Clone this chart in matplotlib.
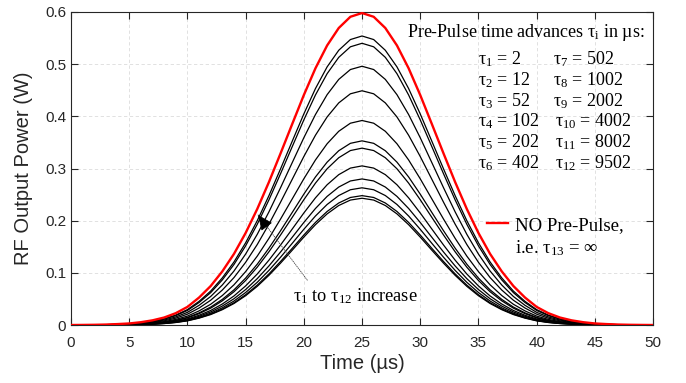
import numpy as np
import matplotlib
matplotlib.use("Agg")
import matplotlib.pyplot as plt

plt.rcParams["font.family"] = ["Liberation Sans", "DejaVu Sans"]
plt.rcParams["mathtext.fontset"] = "custom"
plt.rcParams["mathtext.rm"] = "Liberation Serif"
plt.rcParams["mathtext.it"] = "Liberation Serif"
plt.rcParams["mathtext.bf"] = "Liberation Serif:bold"

# time axis in µs
t_us = list(range(0, 51))
# normalised pulse envelope (peak = 1 at 25 µs)
pulse_shape = [0.000, 0.0003, 0.0007, 0.0015, 0.003, 0.005, 0.009, 0.015, 0.024, 0.038,
               0.058, 0.088, 0.125, 0.172, 0.228, 0.295, 0.372, 0.458, 0.550, 0.644,
               0.737, 0.823, 0.896, 0.952, 0.988, 1.000, 0.988, 0.952, 0.896, 0.823,
               0.737, 0.644, 0.550, 0.458, 0.372, 0.295, 0.228, 0.172, 0.125, 0.088,
               0.058, 0.038, 0.024, 0.015, 0.009, 0.005, 0.003, 0.0015, 0.0007, 0.0003,
               0.000]
# peak power (W) of each trace, tau_1 ... tau_12
peaks_w = [0.554, 0.540, 0.496, 0.449, 0.392, 0.353, 0.339, 0.305, 0.280, 0.263, 0.248, 0.243]
# lower traces have slightly steeper flanks
flank_exp = [1.03, 1.04, 1.06, 1.08, 1.10, 1.12, 1.13, 1.15, 1.16, 1.18, 1.19, 1.20]
peak_no_prepulse = 0.598

tau_left = ["2", "12", "52", "102", "202", "402"]
tau_right = ["502", "1002", "2002", "4002", "8002", "9502"]

TXT = "#262626"
SERIF = ["Liberation Serif", "DejaVu Serif"]

fig, ax = plt.subplots(figsize=(6.86, 3.83), dpi=100)
fig.subplots_adjust(left=0.1035, right=0.952, top=0.9687, bottom=0.1514)

t = np.array(t_us, dtype=float)
shp = np.array(pulse_shape)
for pk, ex in zip(peaks_w, flank_exp):
    ax.plot(t, pk * shp ** ex, color="k", lw=0.9, zorder=3)
red, = ax.plot(t, peak_no_prepulse * shp, color="#ff0000", lw=1.7, zorder=4)

ax.set_xlim(0, 50)
ax.set_ylim(0, 0.6)
ax.set_xticks(np.arange(0, 51, 5))
ax.set_yticks(np.arange(0, 0.61, 0.1))
ax.set_yticklabels(["0", "0.1", "0.2", "0.3", "0.4", "0.5", "0.6"])
ax.tick_params(direction="in", top=True, right=True, length=5, width=0.8,
               colors=TXT, labelsize=11)
ax.tick_params(axis="x", pad=8)
for s in ax.spines.values():
    s.set_color(TXT)
    s.set_linewidth(0.8)
ax.grid(True, ls=(0, (4, 3)), color="#dcdcdc", lw=0.6, zorder=0)
ax.set_axisbelow(True)
ax.set_xlabel("Time (µs)", fontsize=14.5, color=TXT, labelpad=3)
ax.set_ylabel("RF Output Power (W)", fontsize=14.5, color=TXT, labelpad=9)

# tau table
ax.text(28.9, 0.560, r"Pre-Pulse time advances $\tau_i$ in µs:", family=SERIF,
        fontsize=13, va="center", ha="left", color="k")
rows_y = [0.510, 0.470, 0.429, 0.391, 0.351, 0.310]
for i, (a, b) in enumerate(zip(tau_left, tau_right)):
    ax.text(35.0, rows_y[i], r"$\tau_{%d}$ = %s" % (i + 1, a), family=SERIF,
            fontsize=13, va="center", ha="left")
    ax.text(41.4 if i < 3 else 41.6, rows_y[i], r"$\tau_{%d}$ = %s" % (i + 7, b),
            family=SERIF, fontsize=13, va="center", ha="left")

# legend for the red trace
ax.legend([red], ["NO Pre-Pulse,"], loc="center left", bbox_to_anchor=(0.7148, 0.319),
          frameon=False, borderpad=0, borderaxespad=0, handlelength=1.12,
          handletextpad=0.37, prop={"family": SERIF, "size": 13.5})
ax.text(0.763, 0.246, r"i.e. $\tau_{13}$ = $\infty$", transform=ax.transAxes,
        family=SERIF, fontsize=13.5, va="center", ha="left")

# arrow annotation: dotted shaft, solid head
ax.annotate("", xy=(16.07, 0.211), xytext=(20.3, 0.086),
            arrowprops=dict(arrowstyle="-", color="#444444", lw=0.6,
                            ls=(0, (1, 1.5)), shrinkA=0, shrinkB=0),
            zorder=6)
ax.annotate("", xy=(16.07, 0.211), xytext=(16.5, 0.198),
            arrowprops=dict(arrowstyle="-|>,head_length=0.95,head_width=0.42",
                            color="k", lw=0.6, shrinkA=0, shrinkB=0),
            zorder=6)
ax.text(19.1, 0.055, r"$\tau_1$ to $\tau_{12}$ increase", family=SERIF,
        fontsize=13.2, va="center", ha="left")

fig.savefig("out.png", dpi=100)
